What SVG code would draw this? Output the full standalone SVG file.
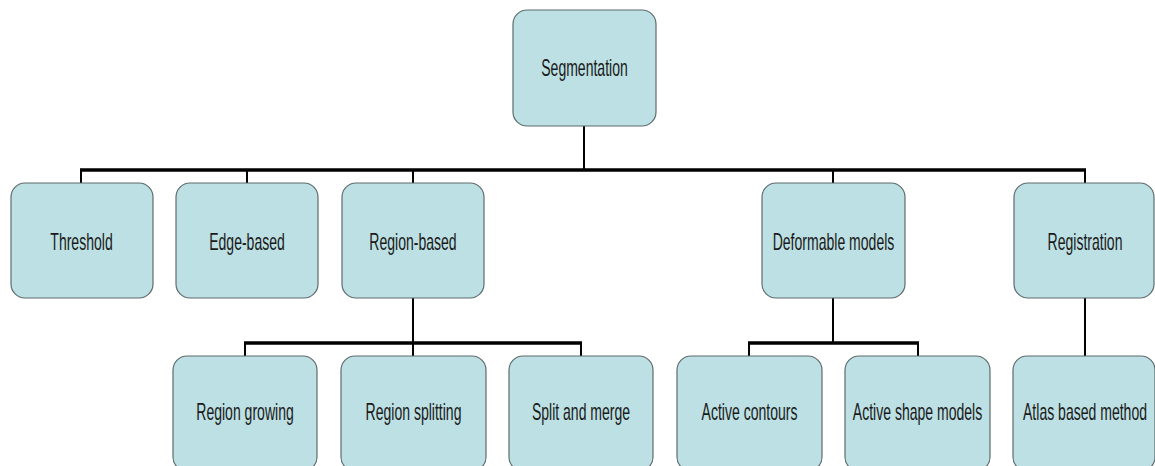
<svg xmlns="http://www.w3.org/2000/svg" width="1155" height="466" viewBox="0 0 1155 466">
<style>
.box{fill:#bce0e3;stroke:#5f6b6d;stroke-width:1.2}
.lbl{font-family:"Liberation Sans",Arial,sans-serif;font-size:23px;fill:#1a1a1a;text-anchor:middle}
.bar{stroke:#000;stroke-width:3.5;fill:none}
.stub{stroke:#000;stroke-width:2;fill:none}
</style>
<rect width="1155" height="466" fill="#ffffff"/>
<g id="connectors">
<line class="stub" x1="584" y1="126" x2="584" y2="170"/>
<line class="bar" x1="80" y1="170" x2="1086" y2="170"/>
<line class="stub" x1="81" y1="170" x2="81" y2="183"/>
<line class="stub" x1="247" y1="170" x2="247" y2="183"/>
<line class="stub" x1="413" y1="170" x2="413" y2="183"/>
<line class="stub" x1="833" y1="170" x2="833" y2="183"/>
<line class="stub" x1="1085" y1="170" x2="1085" y2="183"/>
<line class="stub" x1="413" y1="298" x2="413" y2="356"/>
<line class="bar" x1="244" y1="343" x2="582" y2="343"/>
<line class="stub" x1="245" y1="343" x2="245" y2="356"/>
<line class="stub" x1="581" y1="343" x2="581" y2="356"/>
<line class="stub" x1="833" y1="298" x2="833" y2="343"/>
<line class="bar" x1="748" y1="343" x2="919" y2="343"/>
<line class="stub" x1="749" y1="343" x2="749" y2="356"/>
<line class="stub" x1="918" y1="343" x2="918" y2="356"/>
<line class="stub" x1="1085" y1="298" x2="1085" y2="356"/>
</g>
<g id="n-segmentation"><rect class="box" x="513" y="10" width="143" height="116" rx="14"/><text class="lbl" transform="translate(584.5,76) scale(0.61,1)">Segmentation</text></g>
<g id="n-threshold"><rect class="box" x="11" y="183" width="142" height="115" rx="14"/><text class="lbl" transform="translate(81.5,249.5) scale(0.61,1)">Threshold</text></g>
<g id="n-edge"><rect class="box" x="176" y="183" width="142" height="115" rx="14"/><text class="lbl" transform="translate(247,249.5) scale(0.61,1)">Edge-based</text></g>
<g id="n-region"><rect class="box" x="342" y="183" width="142" height="115" rx="14"/><text class="lbl" transform="translate(413,249.5) scale(0.61,1)">Region-based</text></g>
<g id="n-deformable"><rect class="box" x="762" y="183" width="143" height="115" rx="14"/><text class="lbl" transform="translate(833.5,249.5) scale(0.61,1)">Deformable models</text></g>
<g id="n-registration"><rect class="box" x="1014" y="183" width="140" height="115" rx="14"/><text class="lbl" transform="translate(1085,249.5) scale(0.61,1)">Registration</text></g>
<g id="n-growing"><rect class="box" x="173" y="356" width="144" height="115" rx="14"/><text class="lbl" transform="translate(245,420) scale(0.61,1)">Region growing</text></g>
<g id="n-splitting"><rect class="box" x="341" y="356" width="145" height="115" rx="14"/><text class="lbl" transform="translate(413.5,420) scale(0.61,1)">Region splitting</text></g>
<g id="n-splitmerge"><rect class="box" x="509" y="356" width="144" height="115" rx="14"/><text class="lbl" transform="translate(581,420) scale(0.61,1)">Split and merge</text></g>
<g id="n-contours"><rect class="box" x="677" y="356" width="145" height="115" rx="14"/><text class="lbl" transform="translate(749.5,420) scale(0.61,1)">Active contours</text></g>
<g id="n-shape"><rect class="box" x="845" y="356" width="145" height="115" rx="14"/><text class="lbl" transform="translate(917.5,420) scale(0.61,1)">Active shape models</text></g>
<g id="n-atlas"><rect class="box" x="1013" y="356" width="142" height="115" rx="14"/><text class="lbl" transform="translate(1085,420) scale(0.61,1)">Atlas based method</text></g>
</svg>
